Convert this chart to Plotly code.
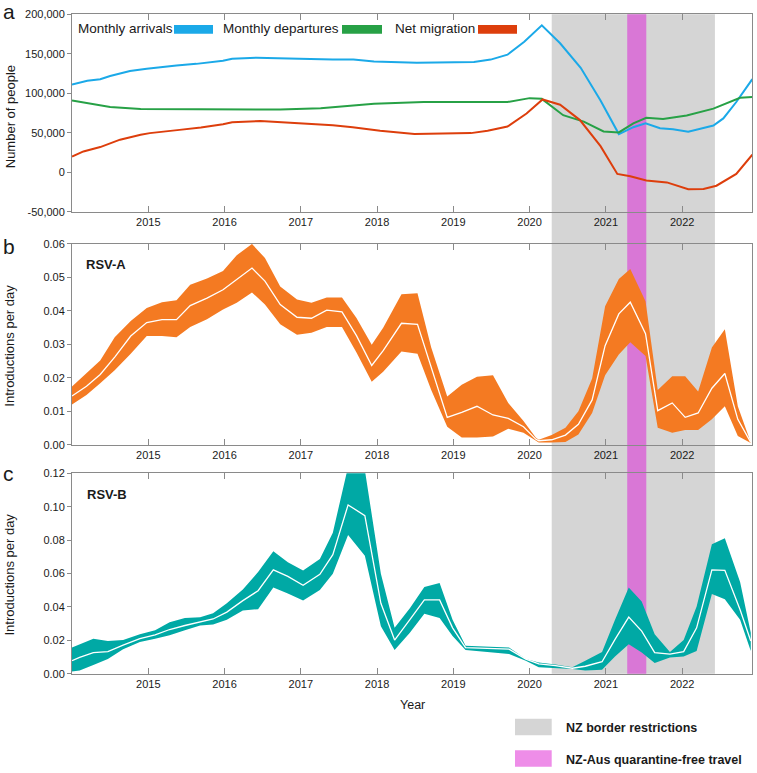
import plotly.graph_objects as go

W, H = 757, 773


def px(x):
    return x / W


def py(y):
    return 1 - y / H


# ---------------- Panel a: migration ----------------
arr_x = [2014.0, 2014.2, 2014.37, 2014.5, 2014.76, 2014.98, 2015.37, 2015.63, 2015.98, 2016.1,
         2016.42, 2016.76, 2016.98, 2017.42, 2017.69, 2017.96, 2018.52, 2019.27, 2019.49, 2019.71,
         2019.93, 2020.16, 2020.4, 2020.67, 2020.93, 2021.17, 2021.36, 2021.52, 2021.71, 2021.88,
         2022.08, 2022.41, 2022.54, 2022.71, 2022.92]
arr_y = [111000, 115800, 117900, 122000, 128200, 131100, 135200, 137300, 141400, 143900,
         145200, 143900, 143900, 142700, 142900, 140400, 138600, 139800, 142700, 148900,
         165400, 186100, 163400, 132400, 90900, 48400, 57100, 62000, 55800, 54600,
         51300, 59200, 68200, 89000, 117900]

dep_x = [2014.0, 2014.24, 2014.5, 2014.9, 2015.69, 2016.47, 2016.73, 2017.26, 2017.96, 2018.61,
         2019.71, 2020.0, 2020.16, 2020.44, 2020.71, 2020.97, 2021.17, 2021.36, 2021.53, 2021.75,
         2022.06, 2022.41, 2022.76, 2022.92]
dep_y = [90900, 86800, 82700, 80200, 80200, 79400, 79400, 81100, 86800, 89000,
         89000, 93900, 93000, 72300, 64100, 51700, 50500, 62000, 69100, 67400,
         72000, 80600, 94300, 95200]

net_x = [2014.0, 2014.15, 2014.37, 2014.63, 2014.9, 2015.02, 2015.41, 2015.69, 2015.98, 2016.1,
         2016.47, 2016.98, 2017.42, 2017.68, 2018.04, 2018.49, 2019.23, 2019.45, 2019.71, 2019.96,
         2020.17, 2020.4, 2020.66, 2020.93, 2021.15, 2021.32, 2021.53, 2021.8, 2022.08, 2022.28,
         2022.45, 2022.71, 2022.92]
net_y = [19900, 26400, 31900, 41300, 47500, 49600, 53700, 56700, 60800, 63300,
         64900, 62000, 59600, 57100, 52500, 48400, 49600, 52500, 57900, 74400,
         92200, 85600, 66100, 33100, -2100, -5000, -10300, -12800, -21500, -21100,
         -17000, -2100, 22300]

a_ticks = [-50000, 0, 50000, 100000, 150000, 200000]
a_ticktext = ["-50,000", "0", "50,000", "100,000", "150,000", "200,000"]

# ---------------- Panel b: RSV-A ----------------
rsva_x = [2014.0, 2014.19, 2014.37, 2014.56, 2014.77, 2014.98, 2015.18, 2015.37, 2015.55, 2015.77,
          2015.98, 2016.16, 2016.36, 2016.53, 2016.73, 2016.95, 2017.14, 2017.34, 2017.54, 2017.73,
          2017.93, 2018.08, 2018.32, 2018.53, 2018.71, 2018.92, 2019.11, 2019.31, 2019.52, 2019.72,
          2019.92, 2020.08, 2020.12, 2020.29, 2020.47, 2020.64, 2020.82, 2020.99, 2021.17, 2021.32,
          2021.52, 2021.68, 2021.87, 2022.04, 2022.21, 2022.39, 2022.56, 2022.73, 2022.9]
rsva_med = [0.0146, 0.0175, 0.0210, 0.0262, 0.0325, 0.0365, 0.0374, 0.0374, 0.0416, 0.0438,
            0.0463, 0.0495, 0.0528, 0.0489, 0.0419, 0.0381, 0.0378, 0.0402, 0.0397, 0.0326,
            0.0237, 0.0281, 0.0363, 0.0360, 0.0232, 0.0082, 0.0097, 0.0115, 0.0089, 0.0079,
            0.0054, 0.0017, 0.0012, 0.0015, 0.0029, 0.0061, 0.0134, 0.0296, 0.0391, 0.0426,
            0.0332, 0.0102, 0.0125, 0.0082, 0.0095, 0.0169, 0.0213, 0.0076, 0.0007]
rsva_hi = [0.0174, 0.0215, 0.0252, 0.0321, 0.0370, 0.0409, 0.0426, 0.0432, 0.0478, 0.0497,
           0.0519, 0.0566, 0.0600, 0.0558, 0.0473, 0.0434, 0.0424, 0.0440, 0.0440, 0.0379,
           0.0299, 0.0350, 0.0450, 0.0453, 0.0291, 0.0144, 0.0179, 0.0203, 0.0208, 0.0125,
           0.0071, 0.0022, 0.0015, 0.0029, 0.0051, 0.0100, 0.0198, 0.0414, 0.0495, 0.0525,
           0.0429, 0.0164, 0.0205, 0.0205, 0.0159, 0.0291, 0.0345, 0.0115, 0.0007]
rsva_lo = [0.0120, 0.0149, 0.0184, 0.0223, 0.0272, 0.0325, 0.0325, 0.0321, 0.0352, 0.0375,
           0.0404, 0.0424, 0.0455, 0.0419, 0.0360, 0.0329, 0.0335, 0.0352, 0.0352, 0.0276,
           0.0188, 0.0218, 0.0279, 0.0272, 0.0164, 0.0054, 0.0022, 0.0022, 0.0025, 0.0048,
           0.0036, 0.0012, 0.0007, 0.0007, 0.0008, 0.0031, 0.0095, 0.0208, 0.0270, 0.0306,
           0.0265, 0.0051, 0.0036, 0.0044, 0.0044, 0.0076, 0.0115, 0.0026, 0.0005]
b_ticks = [0.0, 0.01, 0.02, 0.03, 0.04, 0.05, 0.06]

# ---------------- Panel c: RSV-B ----------------
rsvb_x = [2014.0, 2014.1, 2014.28, 2014.47, 2014.67, 2014.89, 2015.09, 2015.28, 2015.48, 2015.68,
          2015.85, 2016.03, 2016.24, 2016.44, 2016.64, 2016.83, 2017.03, 2017.25, 2017.42, 2017.62,
          2017.84, 2018.05, 2018.23, 2018.43, 2018.62, 2018.82, 2018.99, 2019.16, 2019.73, 2019.95,
          2020.12, 2020.34, 2020.56, 2020.73, 2020.95, 2021.12, 2021.3, 2021.47, 2021.64, 2021.84,
          2022.02, 2022.19, 2022.39, 2022.56, 2022.76, 2022.9]
rsvb_med = [0.0078, 0.0098, 0.0127, 0.0133, 0.0171, 0.0210, 0.0233, 0.0265, 0.0289, 0.0312,
            0.0328, 0.0369, 0.0438, 0.0497, 0.0622, 0.0583, 0.0530, 0.0595, 0.0713, 0.1011,
            0.0947, 0.0422, 0.0202, 0.0324, 0.0442, 0.0442, 0.0275, 0.0157, 0.0147, 0.0088,
            0.0059, 0.0049, 0.0033, 0.0045, 0.0072, 0.0206, 0.0339, 0.0255, 0.0127, 0.0118,
            0.0133, 0.0275, 0.0622, 0.0619, 0.0383, 0.0196]
rsvb_hi = [0.0157, 0.0177, 0.0210, 0.0196, 0.0202, 0.0236, 0.0261, 0.0308, 0.0334, 0.0339,
           0.0363, 0.0422, 0.0505, 0.0609, 0.0733, 0.0668, 0.0619, 0.0687, 0.0845, 0.1240,
           0.1220, 0.0599, 0.0275, 0.0393, 0.0520, 0.0544, 0.0324, 0.0167, 0.0157, 0.0088,
           0.0068, 0.0055, 0.0039, 0.0078, 0.0131, 0.0324, 0.0516, 0.0432, 0.0236, 0.0131,
           0.0202, 0.0403, 0.0776, 0.0811, 0.0550, 0.0245]
rsvb_lo = [0.0014, 0.0020, 0.0053, 0.0088, 0.0147, 0.0190, 0.0210, 0.0230, 0.0261, 0.0289,
           0.0295, 0.0324, 0.0379, 0.0387, 0.0516, 0.0481, 0.0438, 0.0501, 0.0599, 0.0831,
           0.0707, 0.0285, 0.0143, 0.0245, 0.0360, 0.0334, 0.0226, 0.0143, 0.0118, 0.0078,
           0.0039, 0.0033, 0.0029, 0.0019, 0.0024, 0.0104, 0.0177, 0.0127, 0.0065, 0.0098,
           0.0104, 0.0137, 0.0477, 0.0446, 0.0324, 0.0137]
c_ticks = [0.0, 0.02, 0.04, 0.06, 0.08, 0.10, 0.12]

year_ticks = [2015, 2016, 2017, 2018, 2019, 2020, 2021, 2022]

# periods
border_start, border_end = 2020.29, 2022.43
bubble_start, bubble_end = 2021.28, 2021.53

# ---------------- styles ----------------
C_ARR = "#1BA9E8"
C_DEP = "#27A146"
C_NET = "#DD3E0C"
C_ORANGE = "#F47A22"
C_TEAL = "#00A9A5"
C_GREY = "#D5D5D5"
C_PINK = "#D977D6"
C_PINK_LEG = "#EE8DE8"
AX = "#8A8A8A"
FONT = "Liberation Sans, Arial, Helvetica, sans-serif"
TXT = "#1a1a1a"

fig = go.Figure()

for xs, ys, col in [(arr_x, arr_y, C_ARR), (dep_x, dep_y, C_DEP), (net_x, net_y, C_NET)]:
    fig.add_trace(go.Scatter(x=xs, y=ys, mode="lines", line=dict(color=col, width=2),
                             xaxis="x", yaxis="y", showlegend=False, hoverinfo="skip"))

for xs, hi, lo, med, col, xa, ya in [
    (rsva_x, rsva_hi, rsva_lo, rsva_med, C_ORANGE, "x2", "y2"),
    (rsvb_x, rsvb_hi, rsvb_lo, rsvb_med, C_TEAL, "x3", "y3"),
]:
    fig.add_trace(go.Scatter(x=xs, y=hi, mode="lines", line=dict(width=0, color=col),
                             xaxis=xa, yaxis=ya, showlegend=False, hoverinfo="skip"))
    fig.add_trace(go.Scatter(x=xs, y=lo, mode="lines", line=dict(width=0, color=col),
                             fill="tonexty", fillcolor=col,
                             xaxis=xa, yaxis=ya, showlegend=False, hoverinfo="skip"))
    fig.add_trace(go.Scatter(x=xs, y=med, mode="lines", line=dict(color="white", width=1.3),
                             xaxis=xa, yaxis=ya, showlegend=False, hoverinfo="skip"))

tickfont = dict(family=FONT, size=11, color=TXT)
XR = [2014.0, 2022.92]
XD = [px(72), px(752.3)]


def xaxis(anchor):
    return dict(range=XR, domain=XD, anchor=anchor, tickmode="array", tickvals=year_ticks,
                ticktext=[str(v) for v in year_ticks], ticks="inside", ticklen=6, tickcolor=AX,
                showline=True, linecolor=AX, linewidth=1, mirror="ticks", showgrid=False,
                zeroline=False, tickfont=tickfont)


def yaxis(anchor, dom, rng, tv, tt):
    return dict(range=rng, domain=dom, anchor=anchor, tickmode="array", tickvals=tv, ticktext=tt,
                ticks="outside", ticklen=4, tickcolor=AX, showline=True, linecolor=AX,
                linewidth=1, mirror=True, showgrid=False, zeroline=False, tickfont=tickfont)


def yright(over, anchor, rng, tv):
    return dict(overlaying=over, anchor=anchor, side="right", range=rng, tickmode="array",
                tickvals=tv, showticklabels=False, ticks="inside", ticklen=6, tickcolor=AX,
                showline=False, showgrid=False, zeroline=False)


DA = [py(209), py(8.5)]
DB = [py(445.7), py(241.7)]
DC = [py(678.3), py(474.7)]
RA = [-50000, 200000]
RB = [0, 0.06]
RC = [0, 0.12]

shapes = [
    dict(type="rect", xref="x", yref="paper", x0=border_start, x1=border_end,
         y0=DC[0], y1=DA[1], fillcolor=C_GREY, line=dict(width=0), layer="below"),
    dict(type="rect", xref="x", yref="paper", x0=bubble_start, x1=bubble_end,
         y0=DC[0], y1=DA[1], fillcolor=C_PINK, line=dict(width=0), layer="below"),
]

# inline legend swatches in panel a
for x0, x1, col in [(174, 213, C_ARR), (342, 382, C_DEP), (478, 517, C_NET)]:
    shapes.append(dict(type="rect", xref="paper", yref="paper", x0=px(x0), x1=px(x1),
                       y0=py(28.3), y1=py(19.3), fillcolor=col, line=dict(width=0)))

# bottom legend swatches
shapes.append(dict(type="rect", xref="paper", yref="paper", x0=px(515), x1=px(551.7),
                   y0=py(740.7), y1=py(724), fillcolor=C_GREY, line=dict(width=0)))
shapes.append(dict(type="rect", xref="paper", yref="paper", x0=px(515), x1=px(551.7),
                   y0=py(772.7), y1=py(756), fillcolor=C_PINK_LEG, line=dict(width=0)))


def ann(text, x, y, size, xanchor="left", bold=False, angle=0):
    t = f"<b>{text}</b>" if bold else text
    return dict(text=t, x=px(x), y=py(y), xref="paper", yref="paper", xanchor=xanchor,
                yanchor="middle", showarrow=False, textangle=angle,
                font=dict(family=FONT, size=size, color=TXT))


annotations = [
    ann("a", 1, 5.5, 21),
    ann("b", 1, 244.7, 21),
    ann("c", 1, 474.7, 21),
    ann("Number of people", 10, 113, 13, xanchor="center", angle=-90),
    ann("Introductions per day", 10, 345, 13, xanchor="center", angle=-90),
    ann("Introductions per day", 10, 577.5, 13, xanchor="center", angle=-90),
    ann("Monthly arrivals", 76, 23, 13.5),
    ann("Monthly departures", 221, 23, 13.5),
    ann("Net migration", 393, 23, 13.5),
    ann("RSV-A", 84, 262.5, 13, bold=True),
    ann("RSV-B", 84.5, 496.3, 13, bold=True),
    ann("Year", 412.5, 710, 12.5, xanchor="center"),
    ann("NZ border restrictions", 564, 733, 12.5, bold=True),
    ann("NZ-Aus quarantine-free travel", 564, 765.5, 12.5, bold=True),
]

fig.update_layout(
    width=W, height=H, autosize=False,
    margin=dict(l=0, r=0, t=0, b=0),
    paper_bgcolor="white", plot_bgcolor="rgba(0,0,0,0)",
    showlegend=False,
    font=dict(family=FONT, color=TXT),
    xaxis=xaxis("y"), xaxis2=xaxis("y2"), xaxis3=xaxis("y3"),
    yaxis=yaxis("x", DA, RA, a_ticks, a_ticktext),
    yaxis2=yaxis("x2", DB, RB, b_ticks, [f"{v:.2f}" for v in b_ticks]),
    yaxis3=yaxis("x3", DC, RC, c_ticks, [f"{v:.2f}" for v in c_ticks]),
    yaxis4=yright("y", "x", RA, a_ticks),
    yaxis5=yright("y2", "x2", RB, b_ticks),
    yaxis6=yright("y3", "x3", RC, c_ticks),
    shapes=shapes,
    annotations=annotations,
)

fig.write_html(
    "out.html",
    config={"displayModeBar": False},
    post_script="document.body.style.margin='0px';document.body.style.overflow='hidden';",
)
